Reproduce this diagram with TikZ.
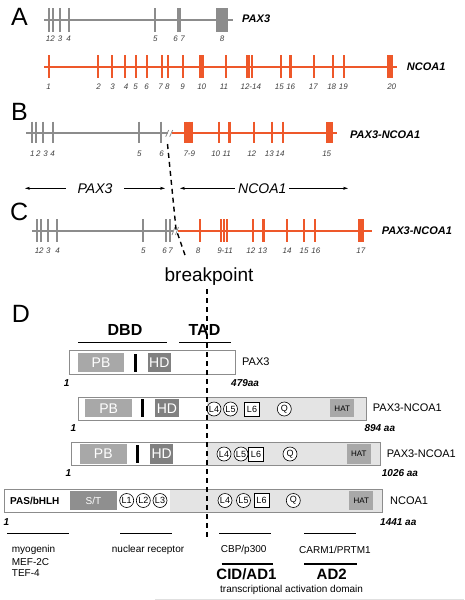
\documentclass[tikz,border=0pt]{standalone}
\usepackage{fontspec}
\setmainfont{Liberation Sans}
\usetikzlibrary{arrows.meta}

\definecolor{ncoa}{RGB}{238,88,42}
\definecolor{paxgray}{RGB}{140,140,140}
\definecolor{pbgray}{RGB}{168,168,168}
\definecolor{hdgray}{RGB}{128,128,128}
\definecolor{tadgray}{RGB}{228,228,228}
\newcommand{\fsz}[1]{\fontsize{#1}{#1}\selectfont}

\begin{document}
\begin{tikzpicture}[x=1pt,y=-1pt,
    exon/.style={line width=2.1pt},
    backbone/.style={line width=1.8pt},
    num/.style={font=\fsz{8}\itshape, text=black!75, inner sep=0pt},
    gene/.style={font=\fsz{11}\bfseries\itshape, anchor=west, inner sep=0pt},
    panel/.style={font=\fsz{25}, anchor=north west, inner sep=0pt},
    span/.style={{Stealth[length=5pt,width=3pt]}-{Stealth[length=5pt,width=3pt]}, line width=0.6pt},
    spantext/.style={font=\fsz{14}\itshape, fill=white, inner sep=0pt},
    bpline/.style={dash pattern=on 5pt off 4pt, line width=1.4pt},
    prot/.style={draw=black!45, line width=0.7pt},
    dom/.style={inner sep=0pt, text=white, font=\fsz{14}},
    hat/.style={inner sep=0pt, fill=pbgray, font=\fsz{8}},
    motif/.style={circle, draw, line width=0.6pt, fill=white, inner sep=0pt, minimum size=14pt, font=\fsz{9}},
    motifsq/.style={rectangle, draw, line width=0.6pt, fill=white, inner sep=0pt, minimum width=15pt, minimum height=14pt, font=\fsz{9}},
    plabel/.style={font=\fsz{11}, anchor=west, inner sep=0pt},
    aa/.style={font=\fsz{10}\bfseries\itshape, inner sep=0pt},
    partner/.style={font=\fsz{10}, anchor=west, inner sep=0pt}]
  \useasboundingbox (0,0) rectangle (464,600);

  % A: genomic loci
  \node[panel] (A) at (11,8) {A};
  \draw[backbone, paxgray] (44,20) -- (233,20);
  \foreach \x in {48.7,52.7,60,69.3,155.3,177.7,180.3}
    \draw[exon, paxgray] (\x,8.3) -- (\x,31.7);
  \fill[paxgray] (216,8.3) rectangle (228.3,31.7);
  \foreach \x/\t [count=\i] in {50.3/12,60/3,68.7/4,155.3/5,175.5/6,182.5/7,222/8}
    \node[num] (pa\i) at (\x,38.3) {\t};
  \node[gene] (paxA) at (242,19) {PAX3};

  \draw[backbone, ncoa] (44,67.3) -- (397,67.3);
  \foreach \x in {48.7,98.3,111.7,125,135.7,147,161.7,168.3,182.7,226,246.7,249.3,252,280.7,314.3,332.7,344}
    \draw[exon, ncoa] (\x,55) -- (\x,78.3);
  \draw[ncoa, line width=3pt] (290,55) -- (290,78.3);
  \fill[ncoa] (199,55) rectangle (204,78.3);
  \fill[ncoa] (387.3,55) rectangle (393.3,78.3);
  \foreach \x/\t [count=\i] in {48.7/1,98.7/2,112.7/3,126/4,135.7/5,146.7/6,160.7/7,167.3/8,182.7/9,201.7/10,224/11,250.8/12-14,279.3/15,290.7/16,313.3/17,331.7/18,343.3/19,391.7/20}
    \node[num] (na\i) at (\x,86.7) {\t};
  \node[gene] (ncoaA) at (406.7,67) {NCOA1};

  % B: fusion transcript
  \node[panel] (B) at (11,103.5) {B};
  \draw[backbone, paxgray] (26,133.3) -- (168,133.3);
  \draw[backbone, ncoa] (171.5,133.3) -- (336.7,133.3);
  \foreach \x in {32.3,36,43.3,52.7,138.7,161.3}
    \draw[exon, paxgray] (\x,121.7) -- (\x,143.3);
  \foreach \x in {185.5,188.5,191.5,219.3,254.3,271.7,282.7}
    \draw[exon, ncoa] (\x,121.7) -- (\x,143.3);
  \draw[ncoa, line width=3pt] (229.3,121.7) -- (229.3,143.3);
  \fill[ncoa] (326,121.7) rectangle (332.7,143.3);
  \draw[paxgray, line width=0.8pt] (165.7,136.7) -- (168.7,130) (169.7,136.7) -- (172.7,130);
  \foreach \x/\t [count=\i] in {32.3/1,38.3/2,45.7/3,52.7/4,139.3/5,161.7/6,189.3/7-9,215.7/10,226.7/11,251.7/12,269.3/13,280/14,326.7/15}
    \node[num] (nb\i) at (\x,153.3) {\t};
  \node[gene] (fusB) at (350,135) {PAX3-NCOA1};

  \coordinate (pL) at (25,188.3);
  \coordinate (pR) at (165,188.3);
  \coordinate (nL) at (180,188.3);
  \coordinate (nR) at (348,188.3);
  \draw[span] (pL) -- (pR) node[spantext, midway, inner xsep=12pt] (paxspan) {PAX3};
  \draw[span] (nL) -- (nR) node[spantext, pos=0.49, inner xsep=3pt] (ncoaspan) {NCOA1};

  % C: second fusion transcript
  \node[panel] (C) at (10,203.3) {C};
  \draw[backbone, paxgray] (32,230.7) -- (173,230.7);
  \draw[backbone, ncoa] (177.5,230.7) -- (371.7,230.7);
  \foreach \x in {37.3,40.7,48.3,57.3,143.3}
    \draw[exon, paxgray] (\x,219) -- (\x,241.7);
  \foreach \x in {166.2,169.8}
    \draw[paxgray, line width=2pt] (\x,219) -- (\x,241.7);
  \foreach \x in {200,220.7,224,227.3,253.3,287.3,304.3,315}
    \draw[exon, ncoa] (\x,219) -- (\x,241.7);
  \draw[ncoa, line width=3pt] (263.3,219) -- (263.3,241.7);
  \fill[ncoa] (358.3,219) rectangle (364.3,241.7);
  \draw[paxgray, line width=0.8pt] (172,235) -- (175,227) (175.5,235) -- (178.5,227);
  \foreach \x/\t [count=\i] in {39.2/12,48.3/3,57.7/4,143.3/5,164.5/6,170.5/7,198/8,225/9-11,250.8/12,262.5/13,287/14,304/15,315.8/16,360.8/17}
    \node[num] (nc\i) at (\x,250.7) {\t};
  \node[gene] (fusC) at (381.7,230.7) {PAX3-NCOA1};

  \node[font=\fsz{19}, inner sep=0pt] (brk) at (209,277) {breakpoint};

  % D: proteins
  \node[panel] (D) at (11.7,305) {D};
  \node[font=\fsz{16}\bfseries, inner sep=0pt] (dbd) at (125,330) {DBD};
  \node[font=\fsz{16}\bfseries, inner sep=0pt] (tad) at (204.5,330) {TAD};
  \draw[line width=1.2pt] (78,342.7) -- (167,342.7);
  \draw[line width=1.2pt] (179,342.7) -- (231,342.7);

  % PAX3
  \draw[prot, fill=white] (69,350.7) rectangle (235.7,374);
  \node[dom, fill=pbgray, minimum width=46.6pt, minimum height=19pt] (pb0) at (101,362.2) {PB};
  \draw[line width=3pt] (135.7,354) -- (135.7,371.7);
  \node[dom, fill=hdgray, minimum width=23.3pt, minimum height=19pt] (hd0) at (159.3,362.2) {HD};
  \node[plabel] (prot0) at (242,362) {PAX3};
  \node[aa] (s0) at (66.7,382.7) {1};
  \node[aa, anchor=west] (e0) at (231,382.7) {479aa};

  % PAX3-NCOA1, 894 aa
  \fill[tadgray] (207,397.3) rectangle (366.7,420);
  \draw[prot] (78.3,397.3) rectangle (366.7,420);
  \node[dom, fill=pbgray, minimum width=47.3pt, minimum height=18pt] (pb1) at (108.7,408.3) {PB};
  \draw[line width=3pt] (142.7,399.3) -- (142.7,417.3);
  \node[dom, fill=hdgray, minimum width=24pt, minimum height=18pt] (hd1) at (167,408.3) {HD};
  \node[motif] (l41) at (214,409) {L4};
  \node[motif] (l51) at (230.5,409) {L5};
  \node[motifsq] (l61) at (252,409) {L6};
  \node[motif] (q1) at (284.3,409) {Q};
  \node[hat, minimum width=24.3pt, minimum height=18pt] (hat1) at (342.2,408.3) {HAT};
  \node[plabel] (prot1) at (372.7,408) {PAX3-NCOA1};
  \node[aa] (s1) at (73.3,427.7) {1};
  \node[aa, anchor=west] (e1) at (364.3,427.7) {894 aa};

  % PAX3-NCOA1, 1026 aa
  \fill[tadgray] (207,442.3) rectangle (380,465);
  \draw[prot] (71.7,442.3) rectangle (380,465);
  \node[dom, fill=pbgray, minimum width=46.7pt, minimum height=20pt] (pb2) at (103.3,453.7) {PB};
  \draw[line width=3pt] (137.3,445) -- (137.3,463);
  \node[dom, fill=hdgray, minimum width=23.3pt, minimum height=20pt] (hd2) at (161.7,453.7) {HD};
  \node[motif] (l42) at (224,454) {L4};
  \node[motif] (l52) at (241,454) {L5};
  \node[motifsq] (l62) at (256,454) {L6};
  \node[motif] (q2) at (290,454) {Q};
  \node[hat, minimum width=24pt, minimum height=20pt] (hat2) at (358.7,453.7) {HAT};
  \node[plabel] (prot2) at (386.7,453.3) {PAX3-NCOA1};
  \node[aa] (s2) at (68.3,473.3) {1};
  \node[aa, anchor=west] (e2) at (381.7,473.3) {1026 aa};

  % NCOA1
  \fill[tadgray] (170,489) rectangle (382,512);
  \draw[prot] (4,489) rectangle (382,512);
  \node[font=\fsz{10}\bfseries, anchor=west, inner sep=0pt] (pas) at (10,500.5) {PAS/bHLH};
  \node[dom, fill=pbgray!85!black, font=\fsz{10}, minimum width=47pt, minimum height=19pt] (st) at (93.5,500.5) {S/T};
  \node[motif] (l13) at (126.7,500.5) {L1};
  \node[motif] (l23) at (143.3,500.5) {L2};
  \node[motif] (l33) at (160,500.5) {L3};
  \node[motif] (l43) at (225,500.5) {L4};
  \node[motif] (l53) at (243.5,500.5) {L5};
  \node[motifsq] (l63) at (261.5,500.5) {L6};
  \node[motif] (q3) at (293.3,500.5) {Q};
  \node[hat, minimum width=24.3pt, minimum height=19pt] (hat3) at (361.2,500.5) {HAT};
  \node[plabel] (prot3) at (390,500.5) {NCOA1};
  \node[aa] (s3) at (6.5,521.7) {1};
  \node[aa, anchor=west] (e3) at (380,521.7) {1441 aa};

  % interaction regions
  \draw[line width=1.4pt] (7.3,533.3) -- (69,533.3);
  \draw[line width=1.4pt] (120,533.3) -- (171.7,533.3);
  \draw[line width=1.4pt] (219,533.3) -- (271,533.3);
  \draw[line width=1.4pt] (304,533.3) -- (355.7,533.3);
  \node[partner] (myo) at (11.7,550) {myogenin};
  \node[partner] (mef) at (11.7,561.7) {MEF-2C};
  \node[partner] (tef) at (11.7,573.3) {TEF-4};
  \node[partner] (nr) at (111.7,550) {nuclear receptor};
  \node[partner] (cbp) at (220.7,550) {CBP/p300};
  \node[partner] (carm) at (299,550) {CARM1/PRTM1};
  \draw[line width=1.2pt] (221.7,564) -- (273.3,564);
  \draw[line width=1.2pt] (304,564) -- (356.7,564);
  \node[font=\fsz{15}\bfseries, inner sep=0pt] (cid) at (246.5,574) {CID/AD1};
  \node[font=\fsz{15}\bfseries, inner sep=0pt] (ad2) at (331.7,574) {AD2};
  \node[partner] (tadtxt) at (220,590) {transcriptional activation domain};
  \draw[black!12, line width=0.8pt] (155,599) -- (464,599);

  % breakpoint
  \coordinate (brkB) at (167.5,144);
  \coordinate (brkC) at (176,229);
  \coordinate (brkE) at (186,258);
  \coordinate (brkD) at (207,289);
  \coordinate (brkF) at (207,537);
  \draw[bpline] (brkB) -- (brkC) -- (brkE);
  \draw[bpline] (brkD) -- (brkF);
\end{tikzpicture}
\end{document}
